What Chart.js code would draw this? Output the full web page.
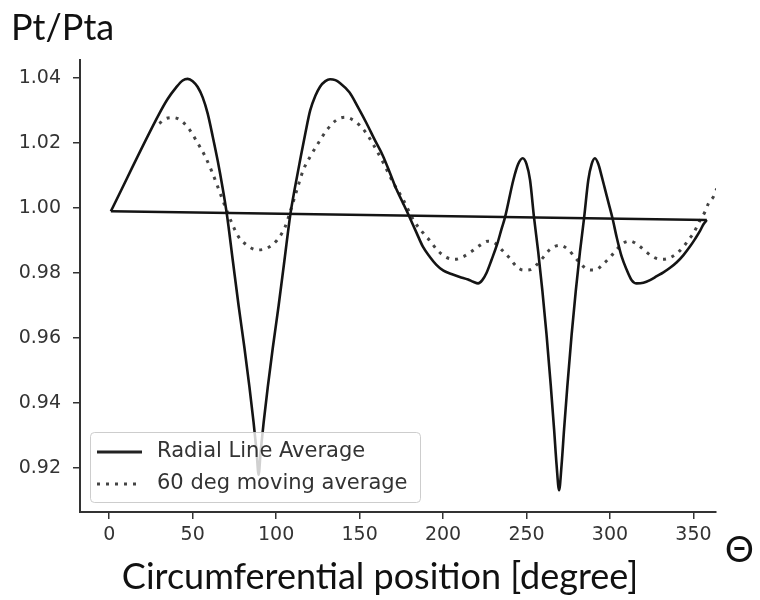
<!DOCTYPE html>
<html>
<head>
<meta charset="utf-8">
<script src="https://cdn.jsdelivr.net/npm/chart.js@4.4.1/dist/chart.umd.min.js"></script>
<style>
  html, body { margin: 0; padding: 0; background: #fff; }
  canvas { display: block; }
</style>
</head>
<body>
<canvas id="ptChart" width="760" height="600"></canvas>
<script>
// Radial line average of Pt/Pta around the circumference
var radialTheta = [
  1, 30, 35, 40, 44, 47, 50, 53, 56, 59, 62, 65, 68,
  70.5, 74, 77.5, 81, 84, 86.5, 88.3, 89.5, 90.7, 92.5, 95, 98, 101.5, 105, 108.5,
  111, 114.4, 117.5, 120.4, 123.5, 126.3, 129.5, 132.3, 135.5, 138, 144, 149,
  154, 159, 164, 168, 172, 176, 179.2, 184, 188, 192, 196, 200, 205, 210,
  215, 218, 221, 223.5, 226, 229, 232.5, 235, 237.1, 242.1, 245, 247.7, 250,
  252.1, 254.5, 257, 259.5, 262, 264.5, 266.5, 268, 269.5, 271, 272.5, 274.5,
  277, 279.5, 282, 284.5, 287, 289, 291, 293, 295, 297, 299, 301.6, 304, 307,
  310, 313, 316, 320, 324, 328, 332, 336, 340, 344, 348, 351, 354, 356, 358
];
var radialValue = [
  0.999, 1.029, 1.0335, 1.037, 1.0392, 1.0397, 1.039, 1.0372, 1.034, 1.029, 1.022, 1.0145, 1.006,
  0.998, 0.984, 0.970, 0.957, 0.945, 0.934, 0.925, 0.918, 0.925, 0.934, 0.945, 0.957, 0.970, 0.984, 0.998,
  1.0055, 1.0148, 1.023, 1.030, 1.0345, 1.0373, 1.039, 1.0396, 1.0393, 1.0385, 1.0355, 1.031,
  1.0262, 1.021, 1.016, 1.011, 1.0058, 1.0015, 0.998, 0.9925, 0.988, 0.985, 0.9825, 0.9808, 0.9797, 0.9788,
  0.978, 0.9773, 0.9768, 0.9778, 0.980, 0.984, 0.989, 0.9935, 0.9971, 1.0086, 1.0135, 1.0153, 1.0135,
  1.0086, 0.997, 0.9865, 0.9745, 0.961, 0.9455, 0.932, 0.921, 0.9132, 0.921, 0.932, 0.9455,
  0.961, 0.9745, 0.9865, 0.997, 1.0086, 1.0135, 1.0153, 1.0135, 1.0098, 1.0058, 1.0018, 0.9966, 0.991, 0.985,
  0.981, 0.9778, 0.9768, 0.977, 0.9778, 0.979, 0.9802, 0.9816, 0.9833, 0.9855, 0.9882, 0.9905, 0.993, 0.995, 0.9963
];

// 60 deg moving average
var movingTheta = [
  30, 34.5, 38, 42, 47.5, 52.5, 57.5, 61.5, 65.4, 69.5, 73.5, 77.4, 82.4, 88.4,
  94.4, 100.4, 105.4, 108.5, 112.4, 116.3, 120.4, 125.3, 130.4, 136.3, 141.3,
  147.3, 153.3, 158.3, 164.3, 170.3, 176.2, 182.2, 188.2, 192, 197, 202, 207,
  212, 217, 222, 227, 231, 235, 240, 244, 248, 252, 256, 260, 264, 270, 275,
  279, 283, 287, 291, 296, 300, 304, 308, 312, 317, 321, 325, 329, 332, 336,
  340, 344, 347, 350, 352, 354, 357, 359, 362, 364, 366
];
var movingValue = [
  1.026, 1.0276, 1.0278, 1.0272, 1.0245, 1.0204, 1.0158, 1.0112, 1.006, 1.0004, 0.9953, 0.9912, 0.9886, 0.9871,
  0.9876, 0.990, 0.9942, 0.999, 1.0055, 1.0117, 1.0158, 1.020, 1.024, 1.0271, 1.0279,
  1.0266, 1.0235, 1.0194, 1.0138, 1.0076, 1.0025, 0.9963, 0.9922, 0.990, 0.9868, 0.9848, 0.9842,
  0.985, 0.9866, 0.9885, 0.9898, 0.9892, 0.9872, 0.9845, 0.982, 0.9809, 0.981, 0.9825, 0.9848, 0.9872, 0.9885, 0.9872,
  0.9848, 0.9825, 0.981, 0.9809, 0.9828, 0.9848, 0.9872, 0.9892, 0.9898, 0.9885, 0.9868, 0.9852, 0.9843, 0.9842, 0.9847,
  0.986, 0.9881, 0.9902, 0.9922, 0.9942, 0.9963, 0.9989, 1.0014, 1.0035, 1.006, 1.0085
];

var xTicks = [0, 50, 100, 150, 200, 250, 300, 350];
var yTicks = [0.92, 0.94, 0.96, 0.98, 1.00, 1.02, 1.04];

function toPoints(xs, ys) {
  return xs.map(function (x, i) { return { x: x, y: ys[i] }; });
}

var radialPoints = toPoints(radialTheta, radialValue);
// the measured loop closes from its last sample back to the first one
var closingPoints = [radialPoints[radialPoints.length - 1], radialPoints[0]];
var movingPoints = toPoints(movingTheta, movingValue);

var axisColor = "#333";

// legend box in the lower left corner of the plot
var boxLegend = {
  id: "boxLegend",
  afterDatasetsDraw: function (chart) {
    var ctx = chart.ctx;
    var left = chart.chartArea.left + 10;
    var top = chart.chartArea.bottom - 80;
    ctx.save();
    ctx.fillStyle = "rgba(255,255,255,0.8)";
    ctx.strokeStyle = "rgba(200,200,200,0.9)";
    ctx.lineWidth = 1;
    ctx.beginPath();
    ctx.roundRect(left + 0.5, top + 0.5, 330, 70, 4);
    ctx.fill();
    ctx.stroke();

    ctx.strokeStyle = "#222";
    ctx.lineWidth = 3;
    ctx.beginPath();
    ctx.moveTo(left + 7, top + 20);
    ctx.lineTo(left + 52, top + 20);
    ctx.stroke();

    ctx.strokeStyle = "#444";
    ctx.setLineDash([3, 6]);
    ctx.beginPath();
    ctx.moveTo(left + 7, top + 52);
    ctx.lineTo(left + 52, top + 52);
    ctx.stroke();
    ctx.setLineDash([]);

    ctx.fillStyle = axisColor;
    ctx.font = "21px 'DejaVu Sans'";
    ctx.textBaseline = "middle";
    ctx.fillText("Radial Line Average", left + 67, top + 20);
    ctx.fillText("60 deg moving average", left + 67, top + 52);
    ctx.restore();
  }
};

// axis captions set in a larger face
var captions = {
  id: "captions",
  afterDraw: function (chart) {
    var ctx = chart.ctx;
    ctx.save();
    ctx.fillStyle = "#111";
    ctx.font = "36px Lato";
    ctx.textBaseline = "alphabetic";
    ctx.textAlign = "left";
    ctx.fillText("Pt/Pta", 11, 40);
    ctx.fillText("\u0398", 725, 562);
    ctx.textAlign = "center";
    ctx.fillText("Circumferential position [degree]", 380, 589);
    ctx.restore();
  }
};

function fixedTicks(list) {
  return function (scale) {
    scale.ticks = list.map(function (v) { return { value: v }; });
  };
}

new Chart("ptChart", {
  type: "line",
  data: {
    datasets: [
      {
        label: "Radial Line Average",
        data: radialPoints,
        borderColor: "#141414",
        borderWidth: 2.6,
        pointRadius: 0,
        cubicInterpolationMode: "monotone",
        fill: false
      },
      {
        label: "closing",
        data: closingPoints,
        borderColor: "#141414",
        borderWidth: 2.6,
        pointRadius: 0,
        fill: false
      },
      {
        label: "60 deg moving average",
        data: movingPoints,
        borderColor: "#444",
        borderWidth: 3,
        borderDash: [3, 6],
        pointRadius: 0,
        cubicInterpolationMode: "monotone",
        fill: false
      }
    ]
  },
  options: {
    responsive: false,
    animation: false,
    layout: {
      padding: { top: 60, right: 44, left: 0, bottom: 0 }
    },
    plugins: {
      legend: { display: false },
      tooltip: { enabled: false }
    },
    scales: {
      x: {
        type: "linear",
        min: -17.5,
        max: 363.5,
        afterBuildTicks: fixedTicks(xTicks),
        afterFit: function (scale) { scale.height = 88; },
        grid: {
          drawOnChartArea: false,
          tickLength: 7,
          tickColor: axisColor,
          lineWidth: 1.5
        },
        border: { color: axisColor, width: 2 },
        ticks: {
          color: axisColor,
          padding: 5,
          font: { family: "'DejaVu Sans'", size: 19 },
          maxRotation: 0,
          callback: function (v) { return String(v); }
        }
      },
      y: {
        min: 0.9065,
        max: 1.0455,
        afterBuildTicks: fixedTicks(yTicks),
        afterFit: function (scale) { scale.width = 80; },
        grid: {
          drawOnChartArea: false,
          tickLength: 7,
          tickColor: axisColor,
          lineWidth: 1.5
        },
        border: { color: axisColor, width: 2 },
        ticks: {
          color: axisColor,
          padding: 12,
          font: { family: "'DejaVu Sans'", size: 19 },
          callback: function (v) { return v.toFixed(2); }
        }
      }
    }
  },
  plugins: [boxLegend, captions]
});
</script>
</body>
</html>
